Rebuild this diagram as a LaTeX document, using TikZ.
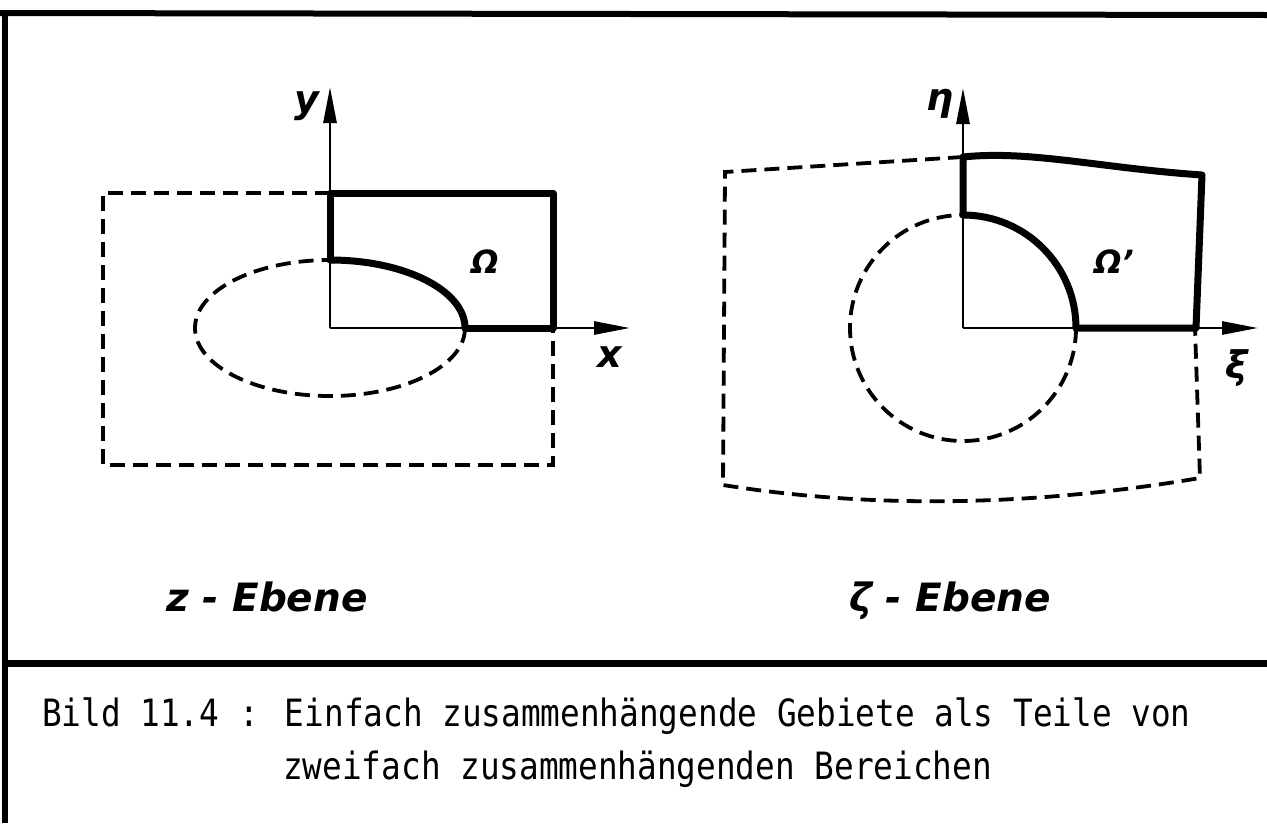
\documentclass[tikz,border=0pt]{standalone}
\usepackage{fontspec}
\setmainfont{DejaVu Sans}
\newfontfamily\capfont{DejaVu Sans Mono}
\usetikzlibrary{arrows.meta}

\begin{document}
\begin{tikzpicture}[
  x=1pt,
  y=-1pt,
  frame/.style={line width=6pt},
  axis/.style={line width=2.8pt,-{Triangle[length=36pt,width=13pt]}},
  bound/.style={line width=7pt,line join=round,line cap=round},
  hidden/.style={line width=3.8pt,dash pattern=on 15pt off 8pt},
  lbl/.style={inner sep=0pt,font=\fontsize{38}{42}\selectfont\bfseries\itshape},
  reg/.style={inner sep=0pt,font=\fontsize{32}{34}\selectfont\bfseries\itshape},
  plane/.style={inner sep=0pt,anchor=base,font=\fontsize{39}{42}\selectfont\bfseries\itshape},
  capline/.style={inner sep=0pt,anchor=base west,font=\capfont\fontsize{32.7}{36}\selectfont}
]
\useasboundingbox (0,0) rectangle (1267,823);

% frame
\draw[frame] (0,13) -- (1267,15);
\draw[frame] (5,10) -- (5,823);
\draw[line width=7pt] (5,663) -- (1267,663);

% z-plane
\coordinate (o1) at (330,328);
\coordinate (ytip) at (330,87);
\coordinate (xtip) at (630,328);
\draw[axis] (o1) -- (ytip);
\draw[axis] (o1) -- (xtip);
\draw[hidden] (330,193) -- (103,193) -- (103,465) -- (553,465) -- (553,328);
\draw[hidden] (465,328) arc[start angle=0,end angle=270,x radius=135,y radius=68];
\draw[bound] (330,260) -- (330,193) -- (553,193) -- (553,328) -- (465,328);
\draw[bound] (330,260) arc[start angle=-90,end angle=0,x radius=135,y radius=68];
\node[lbl] (ylab) at (307,106) {y};
\node[lbl] (xlab) at (610,357) {x};
\node[reg] (om1) at (485,262) {Ω};

% zeta-plane
\coordinate (o2) at (963,328);
\coordinate (etatip) at (963,88);
\coordinate (xitip) at (1258,328);
\draw[axis] (o2) -- (etatip);
\draw[axis] (o2) -- (xitip);
\draw[hidden] (963,157) -- (725,172) -- (723,485)
  .. controls (880,510) and (1040,505) .. (1200,478) -- (1195,328);
\draw[hidden] (1076,328) arc[start angle=0,end angle=270,radius=113];
\draw[bound] (963,215) -- (963,157) .. controls (1030,150) and (1100,168) .. (1202,175)
  -- (1196,328) -- (1076,328);
\draw[bound] (963,215) arc[start angle=-90,end angle=0,radius=113];
\node[lbl] (etalab) at (940,104) {η};
\node[lbl] (xilab) at (1237,368) {ξ};
\node[reg] (om2) at (1114,262) {Ω'};

% plane names
\node[plane] (zname) at (267,611) {z - Ebene};
\node[plane] (zetaname) at (950,611) {ζ - Ebene};

% caption
\node[capline] (cap1) at (42,726) {\scalebox{1}[1.15]{Bild 11.4 : Einfach zusammenhängende Gebiete als Teile von}};
\node[capline] (cap2) at (283,779) {\scalebox{1}[1.15]{zweifach zusammenhängenden Bereichen}};
\end{tikzpicture}
\end{document}
